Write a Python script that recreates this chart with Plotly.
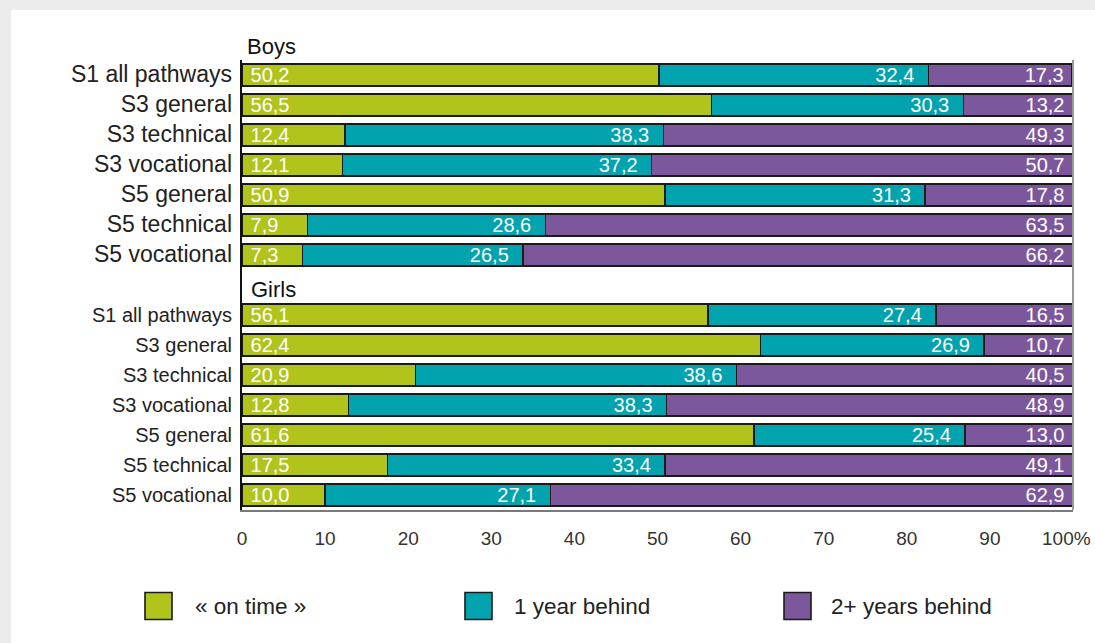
import plotly.graph_objects as go

# ---------------- data ----------------
row_labels = ["S1 all pathways", "S3 general", "S3 technical", "S3 vocational",
              "S5 general", "S5 technical", "S5 vocational"]
groups = ["Boys", "Girls"]
series_names = ["« on time »", "1 year behind", "2+ years behind"]

boys_on_time = [50.2, 56.5, 12.4, 12.1, 50.9, 7.9, 7.3]
boys_1yr = [32.4, 30.3, 38.3, 37.2, 31.3, 28.6, 26.5]
boys_2yr = [17.3, 13.2, 49.3, 50.7, 17.8, 63.5, 66.2]

girls_on_time = [56.1, 62.4, 20.9, 12.8, 61.6, 17.5, 10.0]
girls_1yr = [27.4, 26.9, 38.6, 38.3, 25.4, 33.4, 27.1]
girls_2yr = [16.5, 10.7, 40.5, 48.9, 13.0, 49.1, 62.9]

x_ticks = [0, 10, 20, 30, 40, 50, 60, 70, 80, 90, 100]
x_tick_text = ["0", "10", "20", "30", "40", "50", "60", "70", "80", "90", "100%"]
grid_vals = [20, 40, 60, 80]

# ---------------- styling ----------------
colors = ["#b1c41c", "#00a3ae", "#7c579b"]
W, H = 1095, 643
ML, MR, MT, MB = 242, 22, 60, 133
PW, PH = W - ML - MR, H - MT - MB
NUM_FONT = "Liberation Sans, Arial, sans-serif"
TXT_FONT = "Liberation Sans, Arial, Helvetica, sans-serif"
TICK_FONT = dict(family=TXT_FONT, size=19, color="#333333")


def px_x(px):
    return (px - ML) / PW


def px_y(py):
    return (H - MB - py) / PH


def fmt(v):
    return f"{v:.1f}".replace(".", ",")


n = len(row_labels)
y_boys = list(range(n))
y_girls = [n + 1 + i for i in range(n)]
y_all = y_boys + y_girls

series_vals = [boys_on_time + girls_on_time,
               boys_1yr + girls_1yr,
               boys_2yr + girls_2yr]
pads_before = ["\u00a0", "", ""]
pads_after = ["", "\u00a0\u00a0", "\u00a0"]
anchors = ["start", "end", "end"]

fig = go.Figure()
for name, vals, col, anc, pb, pa in zip(series_names, series_vals, colors,
                                        anchors, pads_before, pads_after):
    fig.add_trace(go.Bar(
        x=vals, y=y_all, orientation="h", name=name,
        marker=dict(color=col, line=dict(color="#1a1a1a", width=1.6)),
        width=0.75,
        text=[pb + fmt(v) + pa for v in vals],
        textposition="inside", insidetextanchor=anc,
        constraintext="none",
        textfont=dict(family=NUM_FONT, size=20, color="white"),
        showlegend=False, hoverinfo="skip",
    ))

tick_text = ([f'<span style="font-size:23px">{t}</span>' for t in row_labels] +
             [t for t in row_labels])

# gridlines every 20
shapes = []
for g in grid_vals:
    shapes.append(dict(type="line", xref="x", yref="paper", x0=g, x1=g, y0=0, y1=1,
                       line=dict(color="#555555", width=1), layer="below"))
# right border of plot
shapes.append(dict(type="line", xref="paper", yref="paper", x0=1, x1=1, y0=0, y1=1,
                   line=dict(color="#9a9a9a", width=2), layer="above"))
# white card over light grey page
shapes.append(dict(type="rect", xref="paper", yref="paper",
                   x0=px_x(11), x1=px_x(W + 5), y0=px_y(H + 5), y1=px_y(10),
                   fillcolor="white", line=dict(width=0), layer="below"))

annotations = []
# last x tick label, nudged left so it stays inside the page
annotations.append(dict(xref="x", yref="paper", x=x_ticks[-1], y=px_y(538),
                        text=x_tick_text[-1], showarrow=False, xanchor="right",
                        yanchor="middle", xshift=20, font=TICK_FONT))
# group headers
annotations.append(dict(xref="paper", yref="paper", x=px_x(245), y=px_y(47),
                        text=groups[0], showarrow=False, xanchor="left", yanchor="middle",
                        font=dict(family=TXT_FONT, size=22, color="#111111")))
annotations.append(dict(xref="paper", yref="y", x=px_x(249), y=n,
                        text=groups[1], showarrow=False, xanchor="left", yanchor="middle",
                        yshift=-4,
                        font=dict(family=TXT_FONT, size=22, color="#111111")))

# manual legend
leg_sq = [145, 465, 784]
leg_tx = [193, 512, 829]
leg_y = 606
for name, col, sx, tx in zip(series_names, colors, leg_sq, leg_tx):
    shapes.append(dict(type="rect", xref="paper", yref="paper",
                       x0=px_x(sx), x1=px_x(sx + 27), y0=px_y(leg_y + 13.5), y1=px_y(leg_y - 13.5),
                       fillcolor=col, line=dict(color="#1a1a1a", width=1.6), layer="above"))
    annotations.append(dict(xref="paper", yref="paper", x=px_x(tx), y=px_y(leg_y),
                            text=name, showarrow=False, xanchor="left", yanchor="middle",
                            font=dict(family=TXT_FONT, size=22.5, color="#222222")))

fig.update_layout(
    width=W, height=H,
    margin=dict(l=ML, r=MR, t=MT, b=MB, pad=0, autoexpand=False),
    barmode="stack",
    paper_bgcolor="#ececec",
    plot_bgcolor="rgba(0,0,0,0)",
    shapes=shapes,
    annotations=annotations,
    uniformtext=dict(minsize=20, mode="show"),
    xaxis=dict(range=[0, 100], tickvals=x_ticks[:-1], ticktext=x_tick_text[:-1],
               showgrid=False, zeroline=False, automargin=False,
               showline=True, linecolor="#7a7a7a", linewidth=2,
               ticks="outside", ticklen=10, tickcolor="rgba(0,0,0,0)",
               tickfont=TICK_FONT),
    yaxis=dict(range=[len(y_all) + 0.5, -0.5], tickvals=y_all, ticktext=tick_text,
               showgrid=False, zeroline=False, automargin=False,
               showline=True, linecolor="#111111", linewidth=2,
               ticks="outside", ticklen=4, tickcolor="rgba(0,0,0,0)",
               tickfont=dict(family=TXT_FONT, size=20, color="#222222")),
)

fig.write_html("out.html")
